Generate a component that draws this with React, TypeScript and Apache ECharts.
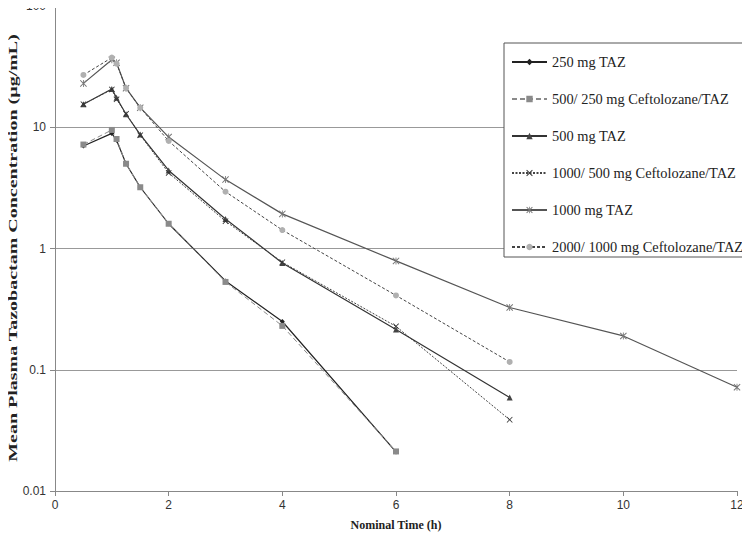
import React, { useEffect, useRef } from "react";
import * as echarts from "echarts";

const seriesNames = [
  "250 mg TAZ",
  "500/ 250 mg Ceftolozane/TAZ",
  "500 mg TAZ",
  "1000/ 500 mg Ceftolozane/TAZ",
  "1000 mg TAZ",
  "2000/ 1000 mg Ceftolozane/TAZ",
];

const times6 = [0.5, 1, 1.083, 1.25, 1.5, 2, 3, 4, 6];
const times8 = [0.5, 1, 1.083, 1.25, 1.5, 2, 3, 4, 6, 8];
const times12 = [0.5, 1, 1.083, 1.25, 1.5, 2, 3, 4, 6, 8, 10, 12];

const taz250 = [7.0, 8.9, 7.8, 5.0, 3.2, 1.6, 0.54, 0.25, 0.021];
const cefTaz500_250 = [7.2, 9.5, 8.0, 5.0, 3.2, 1.6, 0.53, 0.23, 0.0212];
const taz500 = [15.5, 20.7, 17.5, 12.8, 8.7, 4.4, 1.75, 0.76, 0.215, 0.059];
const cefTaz1000_500 = [15.5, 20.5, 17.0, 12.9, 8.6, 4.2, 1.68, 0.77, 0.228, 0.0387];
const taz1000 = [23.0, 36.0, 34.0, 21.0, 14.5, 8.3, 3.7, 1.93, 0.79, 0.326, 0.19, 0.0718];
const cefTaz2000_1000 = [27.0, 37.5, 33.5, 21.0, 14.5, 7.7, 2.94, 1.42, 0.41, 0.116];

const xTicks = [0, 2, 4, 6, 8, 10, 12];
const yTickLabels = ["0.01", "0.1", "1", "10", "100"];

const pair = (t: number[], v: number[]) => v.map((y, i) => [t[i], y]);

const xPath = "path://M0,1L1,0L5,4L9,0L10,1L6,5L10,9L9,10L5,6L1,10L0,9L4,5Z";
const starPath =
  "path://M0,1L1,0L5,4L9,0L10,1L6,5L10,9L9,10L5,6L1,10L0,9L4,5ZM4.4,0L5.6,0L5.6,10L4.4,10Z";

export default function App() {
  const ref = useRef<HTMLDivElement>(null);
  useEffect(() => {
    if (!ref.current) return;
    const chart = echarts.init(ref.current, null, { renderer: "svg" });
    const mk = (
      name: string,
      data: number[][],
      color: string,
      lineColor: string,
      lineType: any,
      symbol: string,
      symbolSize: number,
      width: number
    ) => ({
      name,
      type: "line",
      data,
      symbol,
      symbolSize,
      showSymbol: true,
      itemStyle: { color },
      lineStyle: { color: lineColor, type: lineType, width },
      z: 3,
    });
    chart.setOption({
      animation: false,
      backgroundColor: "#ffffff",
      grid: { left: 55, right: 13, top: 4, bottom: 52, containLabel: false },
      legend: {
        orient: "vertical",
        left: 504,
        top: 43,
        padding: [12, 5, 3, 7],
        itemGap: 23,
        itemWidth: 35,
        itemHeight: 8,
        borderColor: "#555",
        borderWidth: 1,
        backgroundColor: "#ffffff",
        textStyle: { fontFamily: "Liberation Serif", fontSize: 14.4, color: "#222" },
        data: seriesNames,
      },
      xAxis: {
        type: "value",
        min: 0,
        max: 12,
        interval: 2,
        name: "Nominal Time (h)",
        nameLocation: "middle",
        nameGap: 28,
        nameTextStyle: { fontFamily: "Liberation Serif", fontWeight: "bold", fontSize: 12, color: "#222" },
        axisLine: { show: true, lineStyle: { color: "#888", width: 1 } },
        axisTick: { show: true, length: 5, lineStyle: { color: "#888" } },
        axisLabel: {
          fontFamily: "Liberation Sans",
          fontSize: 12,
          color: "#333",
          margin: 8,
          formatter: (v: number) => (xTicks.includes(v) ? String(v) : ""),
        },
        splitLine: { show: false },
      },
      yAxis: {
        type: "log",
        logBase: 10,
        min: 0.01,
        max: 100,
        axisLine: { show: true, lineStyle: { color: "#888", width: 1 } },
        axisTick: { show: true, length: 5, lineStyle: { color: "#888" } },
        axisLabel: {
          fontFamily: "Liberation Sans",
          fontSize: 12,
          color: "#333",
          margin: 9,
          formatter: (v: number) => {
            const idx = Math.round(Math.log10(v)) + 2;
            return yTickLabels[idx] ?? String(v);
          },
        },
        splitLine: { show: true, lineStyle: { color: "#999", width: 1 } },
      },
      graphic: [
        {
          type: "text",
          x: 13,
          y: 248,
          rotation: Math.PI / 2,
          scaleX: 1.48,
          style: {
            text: "Mean Plasma Tazobactam Concentration (µg/mL)",
            fontFamily: "Liberation Serif",
            fontWeight: "bold",
            fontSize: 13.5,
            fill: "#222",
            textAlign: "center",
            textVerticalAlign: "middle",
          },
        },
      ],
      series: [
        mk(seriesNames[0], pair(times6, taz250), "#222", "#222", "solid", "diamond", 5, 1.2),
        mk(seriesNames[1], pair(times6, cefTaz500_250), "#8a8a8a", "#8a8a8a", [5, 3], "rect", 6, 1),
        mk(seriesNames[2], pair(times8, taz500), "#444", "#333", "solid", "triangle", 6, 1.2),
        mk(seriesNames[3], pair(times8, cefTaz1000_500), "#333", "#444", [2, 1.5], xPath, 6, 1),
        mk(seriesNames[4], pair(times12, taz1000), "#777", "#555", "solid", starPath, 7, 1.2),
        mk(seriesNames[5], pair(times8, cefTaz2000_1000), "#b0b0b0", "#444", [3, 2], "circle", 6, 1),
      ],
    });
    return () => chart.dispose();
  }, []);
  return <div ref={ref} style={{ width: 750, height: 543, margin: -8 }} />;
}
